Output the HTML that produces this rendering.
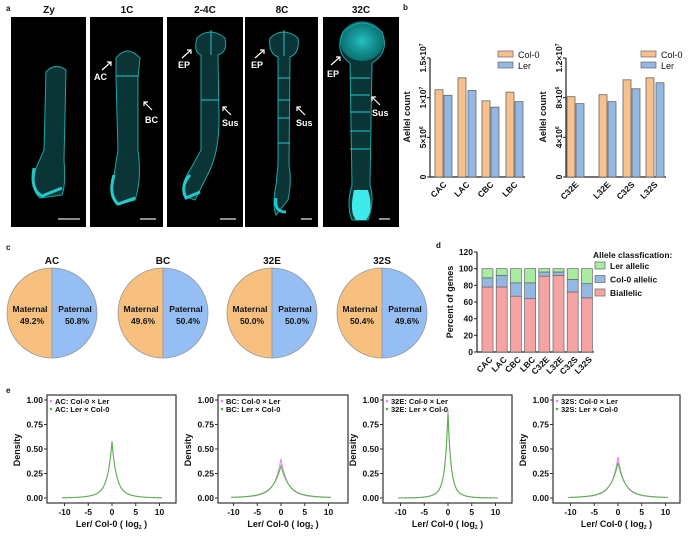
<!DOCTYPE html>
<html><head><meta charset="utf-8"><style>
html,body{margin:0;padding:0;background:#fff}
svg text{font-family:"Liberation Sans",Arial,sans-serif;font-weight:bold;fill:#111}
</style></head><body>
<svg id="s" width="692" height="540" viewBox="0 0 692 540" xmlns="http://www.w3.org/2000/svg">
<defs>
<radialGradient id="g1" cx="50%" cy="50%" r="60%"><stop offset="0" stop-color="#3ff" stop-opacity="1"/><stop offset="1" stop-color="#0aa" stop-opacity="0.6"/></radialGradient>
</defs>
<text x="6" y="11" font-size="8">a</text>
<g font-size="10" text-anchor="middle">
<text x="49" y="13">Zy</text><text x="127" y="13">1C</text><text x="205" y="13">2-4C</text><text x="282" y="13">8C</text><text x="361" y="13">32C</text>
</g>
<rect x="11" y="17" width="75" height="210" fill="#000"/>
<rect x="90" y="17" width="73" height="210" fill="#000"/>
<rect x="167" y="17" width="76" height="210" fill="#000"/>
<rect x="245" y="17" width="73" height="210" fill="#000"/>
<rect x="323" y="17" width="76" height="210" fill="#000"/>
<g fill="#0b3436" stroke="#1aa6a6" stroke-width="1">
<path d="M46 72 Q55 62 66 70 L64 160 Q66 185 62 195 L40 198 Q30 190 36 168 L44 150 Z"/>
<path d="M116 58 Q127 44 140 58 L138 78 L138 150 Q142 180 135 200 L117 205 Q108 195 114 175 L118 150 L116 78 Z"/>
<path d="M197 38 Q210 26 225 38 Q228 52 218 55 L219 120 Q219 150 210 170 L195 200 L184 196 Q180 185 190 170 L201 150 L201 55 Q193 52 197 38 Z"/>
<path d="M270 38 Q283 26 298 38 Q300 53 290 57 L289 165 Q292 180 288 200 L276 215 Q272 205 276 185 L278 165 L278 57 Q268 53 270 38 Z"/>
<path d="M343 32 Q362 14 382 32 Q390 52 372 63 L370 185 Q375 200 368 220 L352 220 Q346 205 352 185 L350 63 Q334 52 343 32 Z"/>
</g>
<g stroke="#27d7d7" stroke-width="3" fill="none" opacity="0.9">
<path d="M34 168 Q30 190 42 196 L62 188"/>
<path d="M114 175 Q108 195 118 204 L135 198"/>
<path d="M190 175 Q180 186 186 198 L200 192"/>
<path d="M276 198 Q274 212 286 212"/>
</g>
<ellipse cx="362" cy="41" rx="22" ry="20" fill="url(#g1)" opacity="0.7"/>
<path d="M354 190 Q349 212 356 220 L366 220 Q374 210 368 190 Z" fill="#4ff" opacity="0.9"/>
<g stroke="#2cc" stroke-width="1.2" opacity="0.8">
<line x1="201" y1="100" x2="219" y2="100"/><line x1="211" y1="30" x2="211" y2="55"/>
<line x1="278" y1="78" x2="290" y2="78"/><line x1="278" y1="100" x2="290" y2="100"/><line x1="278" y1="118" x2="290" y2="118"/><line x1="278" y1="143" x2="290" y2="143"/><line x1="284" y1="30" x2="284" y2="56"/>
<line x1="350" y1="78" x2="370" y2="78"/><line x1="350" y1="95" x2="370" y2="95"/><line x1="350" y1="112" x2="370" y2="112"/><line x1="350" y1="131" x2="370" y2="131"/><line x1="350" y1="149" x2="370" y2="149"/>
<line x1="116" y1="76" x2="138" y2="76"/>
</g>
<g stroke="#ddd" stroke-width="1.3">
<line x1="58" y1="219" x2="80" y2="219"/><line x1="140" y1="219" x2="156" y2="219"/><line x1="220" y1="219" x2="236" y2="219"/><line x1="301" y1="219" x2="312" y2="219"/><line x1="379" y1="219" x2="390" y2="219"/>
</g>
<g font-size="9">
<text x="94" y="80" style="fill:#fff">AC</text><text x="145" y="123" style="fill:#fff">BC</text>
<text x="178" y="68" style="fill:#fff">EP</text><text x="222" y="126" style="fill:#fff">Sus</text>
<text x="251" y="68" style="fill:#fff">EP</text><text x="296" y="126" style="fill:#fff">Sus</text>
<text x="327" y="77" style="fill:#fff">EP</text><text x="372" y="116" style="fill:#fff">Sus</text>
</g>
<g stroke="#fff" stroke-width="1.2" fill="none">
<path d="M102 70 L111 62 M107 62 L111 62 L111 66"/>
<path d="M152 110 L144 102 M144 106 L144 102 L148 102"/>
<path d="M182 58 L191 50 M187 50 L191 50 L191 54"/>
<path d="M231 115 L223 107 M223 111 L223 107 L227 107"/>
<path d="M255 58 L264 50 M260 50 L264 50 L264 54"/>
<path d="M305 115 L297 107 M297 111 L297 107 L301 107"/>
<path d="M331 65 L340 57 M336 57 L340 57 L340 61"/>
<path d="M380 105 L372 97 M372 101 L372 97 L376 97"/>
</g>
<text x="403" y="10" font-size="8">b</text>
<g id="b"></g>
<text x="6" y="250" font-size="8">c</text>
<g id="c"></g>
<text x="436" y="248" font-size="8">d</text>
<g id="d"></g>
<text x="6" y="393" font-size="8">e</text>
<g id="e"></g>
</svg>
<script>
var NS="http://www.w3.org/2000/svg";
function el(p,t,a,txt){var e=document.createElementNS(NS,t);for(var k in a)e.setAttribute(k,a[k]);if(txt!==undefined)e.textContent=txt;p.appendChild(e);return e;}
var OR="#f7c08c",BL="#94b8e4",ST="#666";
var gb=document.getElementById('b');
function barChart(ax,vals,xs,max,ticks,tlabels,labels,lx){
 var y0=177,yt=58,sc=(y0-yt)/max;
 el(gb,'line',{x1:ax,y1:yt,x2:ax,y2:y0,stroke:'#222','stroke-width':1.2});
 el(gb,'line',{x1:ax,y1:y0,x2:xs[xs.length-1]+10,y2:y0,stroke:'#222','stroke-width':1.2});
 ticks.forEach(function(t,i){var y=y0-t*sc;el(gb,'line',{x1:ax-3,y1:y,x2:ax,y2:y,stroke:'#222'});
  var tx=el(gb,'text',{x:ax-7,y:y+3,'font-size':8.5,'text-anchor':'middle',transform:'rotate(-90 '+(ax-7)+' '+y+')'});tx.innerHTML=tlabels[i];});
 vals.forEach(function(v,i){el(gb,'rect',{x:xs[i],y:y0-v*sc,width:8,height:v*sc,fill:i%2?BL:OR,stroke:ST,'stroke-width':0.8});});
 labels.forEach(function(l,i){var x=xs[2*i]+10,y=y0+6;el(gb,'text',{x:x,y:y+3,'font-size':8.5,'text-anchor':'end',transform:'rotate(-45 '+x+' '+y+')'},l);});
 el(gb,'text',{x:0,y:0,'font-size':9,'text-anchor':'middle',transform:'translate('+(ax-20)+' 117) rotate(-90)'},'Aellel count');
 el(gb,'rect',{x:lx,y:51,width:15,height:6,fill:OR,stroke:ST,'stroke-width':0.7});
 el(gb,'rect',{x:lx,y:62,width:15,height:6,fill:BL,stroke:ST,'stroke-width':0.7});
 el(gb,'text',{x:lx+20,y:58,'font-size':9,style:'font-weight:normal'},'Col-0');
 el(gb,'text',{x:lx+20,y:69,'font-size':9,style:'font-weight:normal'},'Ler');
}
barChart(430,[1.1,1.03,1.25,1.09,0.96,0.88,1.07,0.95],[435,444,458,468,482,491,506,515],1.5,[0,0.5,1,1.5],['0','5×10<tspan font-size="5" dy="-3">6</tspan>','1×10<tspan font-size="5" dy="-3">7</tspan>','1.5×10<tspan font-size="5" dy="-3">7</tspan>'],['CAC','LAC','CBC','LBC'],498);
barChart(566,[8.1,7.4,8.3,7.6,9.8,8.9,10.0,9.5],[567,576,599,608,623,632,646,656],12,[0,4,8,12],['0','4×10<tspan font-size="5" dy="-3">6</tspan>','8×10<tspan font-size="5" dy="-3">6</tspan>','1.2×10<tspan font-size="5" dy="-3">7</tspan>'],['C32E','L32E','C32S','L32S'],641);
var gc=document.getElementById('c');
[[52,'AC','49.2%','50.8%'],[163,'BC','49.6%','50.4%'],[272,'32E','50.0%','50.0%'],[382,'32S','50.4%','49.6%']].forEach(function(p){
 var cx=p[0],cy=313,r=45;
 el(gc,'path',{d:'M'+cx+' '+(cy-r)+' A'+r+' '+r+' 0 0 0 '+cx+' '+(cy+r)+' Z',fill:'#f8c07f',stroke:'#999','stroke-width':0.8});
 el(gc,'path',{d:'M'+cx+' '+(cy-r)+' A'+r+' '+r+' 0 0 1 '+cx+' '+(cy+r)+' Z',fill:'#94bef4',stroke:'#999','stroke-width':0.8});
 el(gc,'text',{x:cx,y:264,'font-size':10,'text-anchor':'middle'},p[1]);
 el(gc,'text',{x:cx-22,y:312,'font-size':8.5,'text-anchor':'middle'},'Maternal');
 el(gc,'text',{x:cx-20,y:324,'font-size':8.5,'text-anchor':'middle'},p[2]);
 el(gc,'text',{x:cx+23,y:312,'font-size':8.5,'text-anchor':'middle'},'Paternal');
 el(gc,'text',{x:cx+25,y:324,'font-size':8.5,'text-anchor':'middle'},p[3]);
});
var gd=document.getElementById('d');
(function(){var ax=477,y0=352,sc=100/120;
 el(gd,'line',{x1:ax,y1:252,x2:ax,y2:y0,stroke:'#222','stroke-width':1.2});
 el(gd,'line',{x1:ax,y1:y0,x2:594,y2:y0,stroke:'#222','stroke-width':1.2});
 [0,20,40,60,80,100,120].forEach(function(t){var y=y0-t*sc;el(gd,'line',{x1:ax-3,y1:y,x2:ax,y2:y,stroke:'#222'});el(gd,'text',{x:ax-4,y:y+3,'font-size':8.5,'text-anchor':'end'},t);});
 el(gd,'text',{x:0,y:0,'font-size':9,'text-anchor':'middle',transform:'translate(453 302) rotate(-90)'},'Percent of genes');
 var D=[[78,89],[78,92],[67,83],[64,83],[91,96],[92,96],[72,87],[65,82]],L=['CAC','LAC','CBC','LBC','C32E','L32E','C32S','L32S'];
 D.forEach(function(d,i){var x=482+i*14.2,w=11;
  el(gd,'rect',{x:x,y:y0-d[0]*sc,width:w,height:d[0]*sc,fill:'#f6a3a3',stroke:ST,'stroke-width':0.7});
  el(gd,'rect',{x:x,y:y0-d[1]*sc,width:w,height:(d[1]-d[0])*sc,fill:'#94b8e4',stroke:ST,'stroke-width':0.7});
  el(gd,'rect',{x:x,y:y0-100*sc,width:w,height:(100-d[1])*sc,fill:'#a8eca2',stroke:ST,'stroke-width':0.7});
  var lx=x+9,ly=y0+6;el(gd,'text',{x:lx,y:ly+3,'font-size':8.5,'text-anchor':'end',transform:'rotate(-45 '+lx+' '+ly+')'},L[i]);});
 el(gd,'text',{x:593,y:258,'font-size':8.5},'Allele classfication:');
 [['#a8eca2','Ler allelic'],['#94b8e4','Col-0 allelic'],['#f6a3a3','Biallelic']].forEach(function(q,i){var y=262+i*13.5;
  el(gd,'rect',{x:595,y:y,width:10,height:7,fill:q[0],stroke:ST,'stroke-width':0.7});el(gd,'text',{x:610,y:y+7,'font-size':8.5},q[1]);});
})();
var ge=document.getElementById('e');
[[47,176,112,'AC',0.58,0.57],[218,348,281,'BC',0.40,0.33],[383,512,448,'32E',0.9,0.86],[553,680,618,'32S',0.42,0.36]].forEach(function(p){
 var x1=p[0],x2=p[1],x0=p[2],y0=498,yt=400,sc=(y0-yt);
 el(ge,'rect',{x:x1,y:395,width:x2-x1,height:108,fill:'#fff',stroke:'#333','stroke-width':1.2});
 [0,0.25,0.5,0.75,1].forEach(function(t){var y=y0-t*sc;el(ge,'line',{x1:x1-3,y1:y,x2:x1,y2:y,stroke:'#333'});el(ge,'text',{x:x1-4,y:y+3,'font-size':8.5,'text-anchor':'end'},t.toFixed(2));});
 [-10,-5,0,5,10].forEach(function(t){var x=x0+t*4.75;el(ge,'line',{x1:x,y1:503,x2:x,y2:506,stroke:'#333'});el(ge,'text',{x:x,y:515,'font-size':8.5,'text-anchor':'middle'},t);});
 var xl=(x1+x2)/2;var t=el(ge,'text',{x:xl,y:527,'font-size':9,'text-anchor':'middle'});t.innerHTML='Ler/ Col-0 ( log<tspan font-size="5" dy="2">2</tspan><tspan dy="-2"> )</tspan>';
 el(ge,'text',{x:0,y:0,'font-size':9,'text-anchor':'middle',transform:'translate('+(x1-27)+' 450) rotate(-90)'},'Density');
 [[p[4],'#dd88e8'],[p[5],'#4cb83c']].forEach(function(c){var h=c[0],b=1/(2*h),d='';
  for(var u=-10.5;u<=10.5;u+=0.1){var v=h*Math.exp(-Math.abs(u)/b)*0.8+h*0.2*Math.exp(-Math.abs(u)/(b*3));var x=x0+u*4.75,y=y0-v*sc;d+=(d?'L':'M')+x.toFixed(1)+' '+y.toFixed(1);}
  el(ge,'path',{d:d,fill:'none',stroke:c[1],'stroke-width':1});});
 el(ge,'circle',{cx:x1+4,cy:401,r:1.3,fill:'#dd88e8'});el(ge,'circle',{cx:x1+4,cy:409,r:1.3,fill:'#4cb83c'});
 el(ge,'text',{x:x1+8,y:404,'font-size':7.5},p[3]+': Col-0 × Ler');
 el(ge,'text',{x:x1+8,y:412,'font-size':7.5},p[3]+': Ler × Col-0');
});
</script>
</body></html>
